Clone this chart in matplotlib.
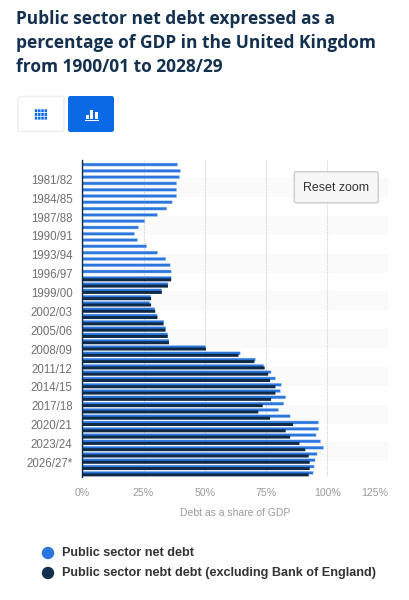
#!/usr/bin/env python3
"""Public sector net debt as a share of GDP, United Kingdom (bar chart recreation)."""

import matplotlib

matplotlib.use("Agg")

import matplotlib.pyplot as plt
from matplotlib.patches import Circle, FancyBboxPatch, Rectangle
from matplotlib.transforms import ScaledTranslation

plt.rcParams["font.family"] = ["Liberation Sans", "DejaVu Sans"]

TITLE_LINES = [
    "Public sector net debt expressed as a",
    "percentage of GDP in the United Kingdom",
    "from 1900/01 to 2028/29",
]

YEARS = [
    "1979/80", "1980/81", "1981/82", "1982/83", "1983/84", "1984/85", "1985/86",
    "1986/87", "1987/88", "1988/89", "1989/90", "1990/91", "1991/92", "1992/93",
    "1993/94", "1994/95", "1995/96", "1996/97", "1997/98", "1998/99", "1999/00",
    "2000/01", "2001/02", "2002/03", "2003/04", "2004/05", "2005/06", "2006/07",
    "2007/08", "2008/09", "2009/10", "2010/11", "2011/12", "2012/13", "2013/14",
    "2014/15", "2015/16", "2016/17", "2017/18", "2018/19", "2019/20", "2020/21",
    "2021/22", "2022/23", "2023/24", "2024/25", "2025/26", "2026/27*", "2027/28*",
    "2028/29*",
]

NET_DEBT = [
    38.9, 40.1, 39.7, 38.5, 38.5, 38.5, 36.7, 34.5, 30.7, 25.5,
    22.9, 21.3, 22.5, 26.3, 30.7, 34.1, 35.9, 36.3, 36.3, 35.0,
    32.4, 28.0, 27.6, 29.6, 30.6, 33.3, 34.1, 34.9, 35.4, 50.4,
    64.5, 70.7, 74.1, 77.1, 78.9, 81.3, 80.9, 83.1, 82.3, 80.1,
    84.9, 96.5, 96.5, 95.5, 97.3, 98.5, 95.9, 95.1, 94.7, 94.3,
]

# series only starts in 1997/98
NET_DEBT_EX_BOE = [
    None, None, None, None, None, None, None, None, None, None,
    None, None, None, None, None, None, None, None, 36.3, 35.0,
    32.5, 28.1, 28.1, 29.8, 30.7, 33.2, 34.0, 34.9, 35.4, 50.5,
    63.8, 70.3, 74.5, 75.9, 76.7, 78.9, 78.9, 77.1, 73.7, 71.9,
    76.7, 86.1, 83.1, 84.9, 88.7, 91.1, 92.5, 92.9, 92.9, 92.5,
]

X_TICKS = [0, 25, 50, 75, 100, 125]
LABEL_STEP = 3
FIRST_LABEL = 2

BLUE = "#2a75de"
NAVY = "#0f2a47"
TITLE_COLOR = "#14304f"


def draw_chart(figure):
    # pixel box of the plot area in the 409x600 picture
    left, right, top, bottom = 82.3, 388.3, 160.1, 477.0
    axis = figure.add_axes(
        [left / 409, 1 - bottom / 600, (right - left) / 409, (bottom - top) / 600]
    )

    positions = list(range(len(YEARS)))
    offset = 0.16
    height = 0.48

    blue_bars = axis.barh(
        [p - offset for p in positions],
        NET_DEBT,
        height=height,
        color=BLUE,
        edgecolor="#a9c8f2",
        linewidth=0.3,
        zorder=3,
    )

    dark_positions = [p + offset for p, v in zip(positions, NET_DEBT_EX_BOE) if v is not None]
    dark_values = [v for v in NET_DEBT_EX_BOE if v is not None]
    dark_bars = axis.barh(
        dark_positions,
        dark_values,
        height=height,
        color=NAVY,
        edgecolor="none",
        zorder=4,
    )

    # keep sub-pixel bars even, otherwise they snap to uneven rows
    for bar in list(blue_bars) + list(dark_bars):
        bar.set_snap(False)

    tick_positions = positions[FIRST_LABEL::LABEL_STEP]
    for start in tick_positions[::2]:
        axis.axhspan(start, start + LABEL_STEP, color="#fafafa", linewidth=0, zorder=0)

    axis.set_xlim(X_TICKS[0], X_TICKS[-1])
    axis.set_ylim(49.5, -0.87)

    axis.set_xticks(X_TICKS)
    axis.set_xticklabels([f"{t}%" for t in X_TICKS], fontsize=7.6, color="#9a9a9a")
    axis.get_xticklabels()[-1].set_ha("right")
    axis.set_yticks(tick_positions)
    axis.set_yticklabels(
        [YEARS[p] for p in tick_positions], fontsize=8.3, color="#707070"
    )
    axis.tick_params(axis="x", length=0, pad=8)
    axis.tick_params(axis="y", length=0, pad=7)

    # year labels sit about a pixel under the category centre
    shift = ScaledTranslation(0, -1.2 / 100, figure.dpi_scale_trans)
    for label in axis.get_yticklabels():
        label.set_transform(label.get_transform() + shift)

    axis.grid(axis="x", color="#cfcfcf", linestyle=(0, (1, 1)), linewidth=0.8, zorder=1)
    axis.set_axisbelow(True)

    for side in ["top", "right", "bottom"]:
        axis.spines[side].set_visible(False)
    axis.spines["left"].set_color(NAVY)
    axis.spines["left"].set_linewidth(1.0)
    axis.spines["left"].set_zorder(6)

    axis.set_xlabel("Debt as a share of GDP", fontsize=7.5, color="#9a9a9a", labelpad=7)


def draw_buttons(overlay):
    overlay.add_patch(
        FancyBboxPatch((18, 96.5), 46, 35, boxstyle="round,pad=0,rounding_size=2.5",
                       facecolor="white", edgecolor="#f0f0f0", linewidth=1.2)
    )
    overlay.add_patch(
        FancyBboxPatch((68, 96), 46, 36, boxstyle="round,pad=0,rounding_size=2.5",
                       facecolor="#0b69e6", edgecolor="none")
    )

    # table icon
    for row in range(3):
        for col in range(4):
            cell = Rectangle((34.8 + col * 3.25, 109.3 + row * 3.7), 2.5, 2.9,
                             facecolor="#0b69e6", edgecolor="none")
            cell.set_snap(False)
            overlay.add_patch(cell)

    # bar chart icon
    for x, y, h in [(85.7, 114.5, 4.0), (90.2, 110, 8.5), (94.7, 112, 6.5)]:
        overlay.add_patch(Rectangle((x, y), 3.2, h, facecolor="white", edgecolor="none"))
    overlay.add_patch(Rectangle((85, 119.8), 13.5, 1.0, facecolor="white", edgecolor="none"))

    # reset zoom button
    overlay.add_patch(
        FancyBboxPatch((294.3, 171.8), 84, 31, boxstyle="round,pad=0,rounding_size=2",
                       facecolor="#f7f7f7", edgecolor="#cccccc", linewidth=1.0)
    )
    overlay.text(336, 187.8, "Reset zoom", fontsize=8.95, color="#333333",
                 ha="center", va="center")


def draw_legend(overlay):
    entries = [
        (553, BLUE, "Public sector net debt"),
        (573, "#14304f", "Public sector nebt debt (excluding Bank of England)"),
    ]
    for y, color, label in entries:
        overlay.add_patch(Circle((48, y), 6.2, facecolor=color, edgecolor="none"))
        overlay.text(62, y + 0.4, label, fontsize=9.05, fontweight="bold",
                     color="#333333", ha="left", va="center")


def main():
    figure = plt.figure(figsize=(4.09, 6.0), dpi=100)
    draw_chart(figure)

    # transparent layer working in picture pixels, for everything outside the plot
    overlay = figure.add_axes([0, 0, 1, 1], facecolor="none")
    overlay.set_xlim(0, 409)
    overlay.set_ylim(600, 0)
    overlay.axis("off")

    for line, y in zip(TITLE_LINES, [19, 43, 67]):
        overlay.text(16, y, line, fontsize=12.5, fontweight="bold", color=TITLE_COLOR,
                     family="Open Sans", ha="left", va="center")

    draw_buttons(overlay)
    draw_legend(overlay)

    figure.savefig("out.png", dpi=100)
    plt.close(figure)


if __name__ == "__main__":
    main()
